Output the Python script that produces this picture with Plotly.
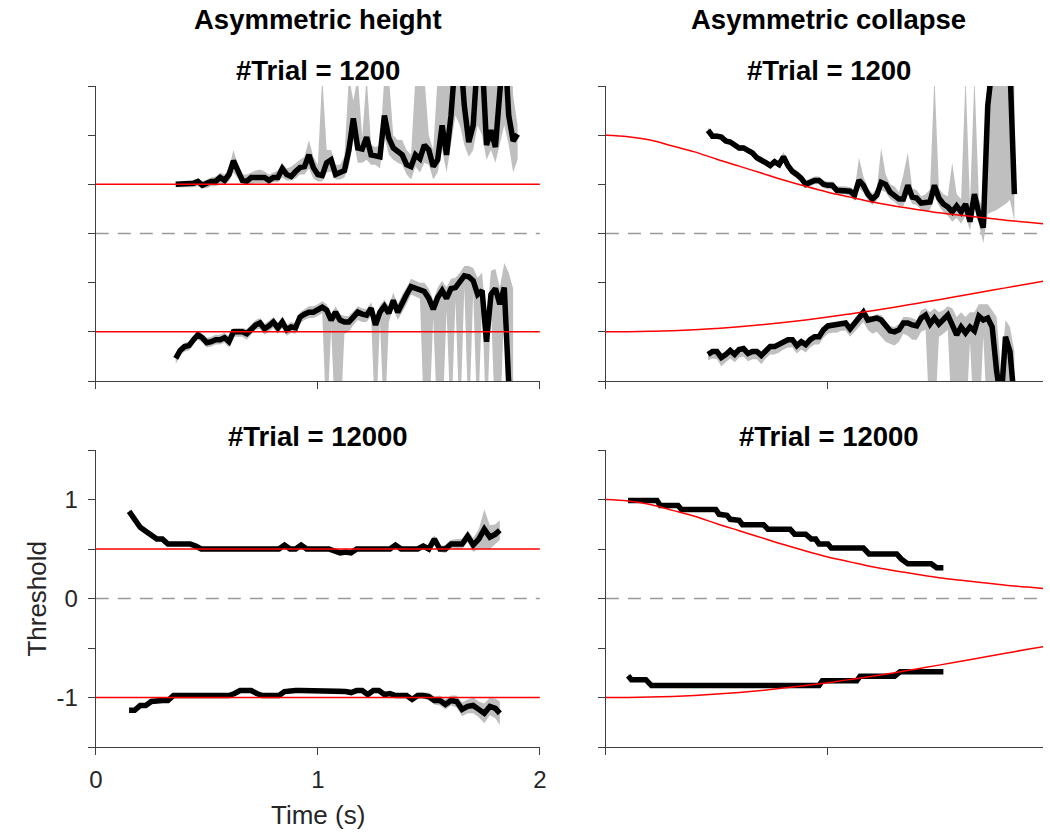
import numpy as np
import plotly.graph_objects as go

# ---------------- data ----------------
TRUE_UPPER_HEIGHT = 0.5
TRUE_LOWER_HEIGHT = -1.0

# red "true" collapsing bounds (right column)
collapse_t = [0.0, 0.1, 0.2, 0.3, 0.4, 0.5, 0.6, 0.7, 0.8, 0.9, 1.0, 1.1, 1.2, 1.3, 1.4, 1.5, 1.6, 1.7, 1.8, 1.9, 1.97]
collapse_upper = [1.00, 0.985, 0.95, 0.89, 0.83, 0.755, 0.685, 0.615, 0.545, 0.48, 0.42, 0.37, 0.32, 0.28, 0.245,
                  0.21, 0.185, 0.16, 0.135, 0.115, 0.10]
collapse_lower = [-1.00, -0.999, -0.995, -0.989, -0.979, -0.965, -0.949, -0.929, -0.905, -0.879, -0.850, -0.818,
                  -0.785, -0.749, -0.711, -0.673, -0.633, -0.593, -0.553, -0.513, -0.486]

# ---- top-left: asymmetric height, 1200 trials ----
tl_up_t = np.round(np.arange(0.36, 1.9001, 0.02), 2)
tl_up_mean = [0.50, 0.50, 0.50, 0.50, 0.51, 0.53, 0.49, 0.51, 0.53, 0.53,
              0.57, 0.54, 0.60, 0.74, 0.64, 0.54, 0.53, 0.57, 0.57, 0.57,
              0.57, 0.54, 0.57, 0.57, 0.66, 0.60, 0.58, 0.63, 0.67, 0.68,
              0.80, 0.67, 0.60, 0.59, 0.72, 0.75, 0.60, 0.62, 0.64, 0.85,
              1.17, 0.87, 0.86, 0.98, 0.80, 0.79, 0.78, 1.20, 0.97, 0.87,
              0.84, 0.80, 0.70, 0.68, 0.80, 0.76, 0.90, 0.85, 0.68, 0.75,
              1.10, 0.80, 1.20, 1.80, 1.90, 1.30, 0.93, 1.10, 1.80, 1.80,
              0.90, 1.05, 0.88, 1.50, 2.00, 1.20, 0.94, 1.01]
tl_up_lo = [0.47, 0.47, 0.47, 0.47, 0.47, 0.48, 0.46, 0.46, 0.48, 0.48,
            0.50, 0.50, 0.53, 0.62, 0.56, 0.50, 0.50, 0.50, 0.51, 0.51,
            0.51, 0.50, 0.52, 0.52, 0.57, 0.54, 0.54, 0.56, 0.60, 0.60,
            0.66, 0.56, 0.53, 0.53, 0.62, 0.63, 0.55, 0.55, 0.57, 0.68,
            0.95, 0.72, 0.72, 0.75, 0.70, 0.70, 0.66, 0.98, 0.80, 0.75,
            0.72, 0.70, 0.60, 0.55, 0.68, 0.62, 0.72, 0.70, 0.55, 0.62,
            0.85, 0.62, 0.90, 1.20, 1.10, 0.90, 0.78, 0.85, 1.10, 1.00,
            0.75, 0.85, 0.72, 0.90, 1.10, 0.90, 0.62, 0.75]
tl_up_hi = [0.52, 0.52, 0.52, 0.53, 0.54, 0.56, 0.53, 0.55, 0.57, 0.58,
            0.62, 0.60, 0.66, 0.85, 0.70, 0.60, 0.60, 0.62, 0.64, 0.65,
            0.63, 0.60, 0.62, 0.64, 0.72, 0.66, 0.68, 0.72, 0.75, 0.78,
            0.95, 0.78, 0.70, 1.60, 0.85, 0.85, 0.70, 0.70, 0.78, 1.60,
            1.35, 1.60, 0.98, 1.60, 0.90, 0.88, 0.90, 1.60, 1.60, 1.00,
            0.95, 0.95, 0.85, 0.80, 1.60, 1.60, 1.60, 1.00, 0.85, 1.60,
            1.60, 1.60, 1.60, 2.50, 2.50, 2.50, 2.50, 2.50, 2.50, 2.50,
            2.50, 2.50, 2.50, 2.50, 2.50, 2.50, 1.40, 1.10]

tl_lo_t = np.round(np.arange(0.36, 1.8801, 0.02), 2)
tl_lo_mean = [-1.27, -1.19, -1.15, -1.14, -1.08, -1.03, -1.06, -1.11, -1.10, -1.08,
              -1.08, -1.06, -1.10, -1.00, -1.00, -1.00, -1.02, -0.98, -0.93, -0.91,
              -0.97, -0.94, -0.90, -0.96, -0.90, -0.98, -0.95, -0.96, -0.85, -0.82,
              -0.80, -0.80, -0.78, -0.75, -0.78, -0.88, -0.80, -0.88, -0.90, -0.90,
              -0.85, -0.80, -0.82, -0.83, -0.76, -0.93, -0.80, -0.74, -0.81, -0.68,
              -0.80, -0.70, -0.62, -0.54, -0.56, -0.58, -0.59, -0.66, -0.77, -0.65,
              -0.58, -0.66, -0.56, -0.55, -0.50, -0.43, -0.44, -0.48, -0.62, -0.58,
              -1.10, -0.62, -0.56, -0.72, -0.55, -1.90, -2.50]
tl_lo_lo = [-1.33, -1.24, -1.20, -1.19, -1.13, -1.08, -1.11, -1.16, -1.15, -1.13,
            -1.13, -1.11, -1.16, -1.05, -1.05, -1.05, -1.08, -1.03, -0.98, -0.97,
            -1.03, -1.00, -0.96, -1.02, -0.96, -1.04, -1.01, -1.02, -0.91, -0.88,
            -0.86, -0.86, -0.84, -0.81, -2.00, -0.96, -2.00, -2.00, -1.02, -1.00,
            -0.93, -0.88, -0.90, -0.90, -0.84, -2.00, -0.90, -2.00, -0.90, -0.76,
            -0.88, -0.80, -0.72, -0.62, -0.64, -0.66, -2.00, -2.00, -0.86, -2.00,
            -2.00, -0.78, -2.00, -0.68, -2.00, -0.55, -2.00, -0.60, -2.00, -0.70,
            -2.00, -0.75, -2.00, -2.00, -0.70, -2.00, -2.00]
tl_lo_hi = [-1.22, -1.15, -1.11, -1.10, -1.04, -0.99, -1.02, -1.06, -1.05, -1.03,
            -1.03, -1.01, -1.05, -0.96, -0.96, -0.96, -0.97, -0.93, -0.88, -0.86,
            -0.92, -0.89, -0.85, -0.91, -0.85, -0.93, -0.90, -0.91, -0.80, -0.77,
            -0.74, -0.74, -0.72, -0.69, -0.72, -0.82, -0.74, -0.82, -0.84, -0.84,
            -0.79, -0.74, -0.76, -0.77, -0.70, -0.86, -0.73, -0.67, -0.74, -0.60,
            -0.72, -0.62, -0.55, -0.46, -0.48, -0.50, -0.50, -0.56, -0.68, -0.55,
            -0.48, -0.55, -0.46, -0.45, -0.40, -0.33, -0.33, -0.35, -0.45, -0.40,
            -0.90, -0.38, -0.36, -0.55, -0.30, -0.40, -0.56]

# ---- top-right: asymmetric collapse, 1200 trials ----
tr_t = np.round(np.arange(0.46, 1.8401, 0.02), 2)
tr_up_mean = [1.05, 0.99, 0.99, 0.98, 0.94, 0.93, 0.90, 0.87, 0.87, 0.84,
              0.82, 0.77, 0.75, 0.72, 0.69, 0.73, 0.70, 0.78, 0.69, 0.63,
              0.60, 0.56, 0.50, 0.52, 0.54, 0.54, 0.50, 0.49, 0.49, 0.44,
              0.44, 0.44, 0.43, 0.39, 0.54, 0.49, 0.40, 0.35, 0.39, 0.52,
              0.50, 0.42, 0.39, 0.35, 0.35, 0.49, 0.37, 0.36, 0.31, 0.31,
              0.32, 0.49, 0.36, 0.30, 0.27, 0.22, 0.28, 0.22, 0.30, 0.12,
              0.40, 0.20, 0.06, 1.30, 2.00, 2.50, 2.50, 2.20, 1.70, 0.40]
tr_up_lo = [1.01, 0.96, 0.96, 0.95, 0.91, 0.90, 0.87, 0.84, 0.84, 0.81,
            0.79, 0.74, 0.72, 0.69, 0.66, 0.70, 0.67, 0.74, 0.65, 0.59,
            0.56, 0.52, 0.46, 0.48, 0.50, 0.50, 0.46, 0.45, 0.45, 0.40,
            0.40, 0.40, 0.38, 0.33, 0.46, 0.42, 0.34, 0.29, 0.33, 0.44,
            0.42, 0.35, 0.32, 0.28, 0.28, 0.40, 0.30, 0.29, 0.24, 0.23,
            0.24, 0.38, 0.28, 0.22, 0.18, 0.12, 0.16, 0.10, 0.18, 0.03,
            0.28, 0.08, -0.10, 0.20, 0.22, 0.24, 0.27, 0.30, 0.34, 0.13]
tr_up_hi = [1.08, 1.02, 1.02, 1.01, 0.97, 0.96, 0.93, 0.90, 0.90, 0.87,
            0.85, 0.80, 0.78, 0.75, 0.72, 0.76, 0.73, 0.83, 0.73, 0.67,
            0.64, 0.60, 0.54, 0.56, 0.58, 0.58, 0.54, 0.53, 0.53, 0.48,
            0.48, 0.48, 0.47, 0.44, 0.77, 0.58, 0.46, 0.41, 0.45, 0.87,
            0.60, 0.50, 0.48, 0.42, 0.60, 0.82, 0.46, 0.44, 0.38, 0.40,
            0.45, 1.60, 0.46, 0.40, 0.38, 0.72, 0.40, 0.35, 1.60, 0.30,
            1.60, 0.35, 0.25, 2.00, 3.00, 3.00, 3.00, 3.00, 3.00, 3.00]
tr_lo_mean = [-1.23, -1.20, -1.20, -1.26, -1.23, -1.19, -1.23, -1.18, -1.17, -1.22,
              -1.20, -1.20, -1.24, -1.19, -1.15, -1.15, -1.13, -1.10, -1.08, -1.08,
              -1.14, -1.10, -1.13, -1.08, -1.05, -1.05, -0.98, -0.94, -0.93, -0.93,
              -0.91, -0.91, -0.97, -0.92, -0.87, -0.80, -0.88, -0.87, -0.86, -0.88,
              -0.93, -0.99, -1.00, -0.98, -0.91, -0.91, -0.93, -0.94, -0.86, -0.83,
              -0.92, -0.86, -0.92, -0.88, -0.83, -0.93, -1.03, -0.95, -1.01, -0.95,
              -0.99, -0.84, -0.88, -0.86, -0.95, -1.40, -1.70, -1.05, -1.20, -1.70]
tr_lo_lo = [-1.29, -1.27, -1.28, -1.35, -1.31, -1.27, -1.31, -1.26, -1.25, -1.30,
            -1.28, -1.28, -1.33, -1.27, -1.23, -1.23, -1.21, -1.18, -1.16, -1.16,
            -1.22, -1.18, -1.21, -1.16, -1.13, -1.13, -1.06, -1.02, -1.01, -1.01,
            -0.99, -0.99, -1.05, -1.00, -0.95, -0.90, -0.98, -1.02, -1.00, -1.05,
            -1.10, -1.12, -1.14, -1.10, -1.02, -1.04, -1.08, -1.08, -1.00, -0.98,
            -2.00, -2.00, -1.05, -1.02, -0.98, -2.00, -2.00, -2.00, -2.00, -1.10,
            -2.00, -2.00, -1.05, -2.00, -2.00, -2.00, -2.00, -2.00, -2.00, -2.00]
tr_lo_hi = [-1.21, -1.18, -1.18, -1.24, -1.21, -1.17, -1.21, -1.16, -1.15, -1.20,
            -1.18, -1.18, -1.22, -1.17, -1.13, -1.13, -1.11, -1.08, -1.06, -1.06,
            -1.12, -1.08, -1.11, -1.06, -1.03, -1.03, -0.96, -0.92, -0.91, -0.91,
            -0.89, -0.89, -0.95, -0.90, -0.85, -0.78, -0.84, -0.84, -0.82, -0.83,
            -0.88, -0.94, -0.95, -0.92, -0.85, -0.85, -0.86, -0.88, -0.78, -0.76,
            -0.80, -0.76, -0.80, -0.78, -0.74, -0.76, -0.85, -0.80, -0.85, -0.80,
            -0.80, -0.72, -0.72, -0.72, -0.78, -0.85, -1.40, -0.88, -0.95, -1.20]

# ---- bottom-left: asymmetric height, 12000 trials ----
bl_t = [0.150, 0.175, 0.200, 0.225, 0.250, 0.275, 0.300, 0.325, 0.350, 0.375,
        0.400, 0.425, 0.450, 0.475, 0.500, 0.525, 0.550, 0.575, 0.600, 0.625,
        0.650, 0.675, 0.700, 0.725, 0.750, 0.775, 0.800, 0.825, 0.850, 0.875,
        0.900, 0.925, 0.950, 0.975, 1.000, 1.025, 1.050, 1.075, 1.100, 1.125,
        1.150, 1.175, 1.200, 1.225, 1.250, 1.275, 1.300, 1.325, 1.350, 1.375,
        1.400, 1.425, 1.450, 1.475, 1.500, 1.525, 1.550, 1.575, 1.600, 1.625,
        1.650, 1.675, 1.700, 1.725, 1.750, 1.775, 1.800, 1.820]
bl_up_mean = [0.88, 0.80, 0.72, 0.68, 0.64, 0.60, 0.60, 0.55, 0.55, 0.55,
              0.55, 0.55, 0.53, 0.50, 0.50, 0.50, 0.50, 0.50, 0.50, 0.50,
              0.50, 0.50, 0.50, 0.50, 0.50, 0.50, 0.50, 0.50, 0.54, 0.50,
              0.50, 0.54, 0.50, 0.50, 0.50, 0.50, 0.50, 0.48, 0.46, 0.47,
              0.46, 0.50, 0.50, 0.50, 0.50, 0.50, 0.50, 0.50, 0.54, 0.50,
              0.50, 0.50, 0.50, 0.53, 0.50, 0.60, 0.50, 0.50, 0.55, 0.55,
              0.55, 0.63, 0.54, 0.60, 0.70, 0.62, 0.65, 0.69]
bl_up_ci = [0.02, 0.02, 0.02, 0.02, 0.02, 0.02, 0.02, 0.02, 0.02, 0.02,
            0.02, 0.02, 0.02, 0.02, 0.02, 0.02, 0.02, 0.02, 0.02, 0.02,
            0.02, 0.02, 0.02, 0.02, 0.02, 0.02, 0.02, 0.02, 0.02, 0.02,
            0.02, 0.02, 0.02, 0.02, 0.02, 0.02, 0.02, 0.02, 0.02, 0.02,
            0.02, 0.02, 0.02, 0.02, 0.02, 0.02, 0.02, 0.02, 0.02, 0.02,
            0.02, 0.02, 0.02, 0.03, 0.03, 0.04, 0.03, 0.04, 0.04, 0.05,
            0.05, 0.06, 0.07, 0.10, 0.20, 0.12, 0.10, 0.10]
bl_lo_mean = [-1.13, -1.13, -1.08, -1.08, -1.04, -1.03, -1.03, -1.03, -0.98, -0.98,
              -0.98, -0.98, -0.98, -0.98, -0.98, -0.98, -0.98, -0.98, -0.98, -0.96,
              -0.93, -0.93, -0.93, -0.96, -0.98, -0.98, -0.98, -0.98, -0.94, -0.93,
              -0.93, -0.93, -0.93, -0.93, -0.93, -0.93, -0.93, -0.93, -0.93, -0.94,
              -0.95, -0.93, -0.93, -0.97, -0.93, -0.93, -0.97, -0.96, -0.98, -0.98,
              -0.98, -1.02, -0.98, -0.98, -0.99, -1.03, -1.03, -1.07, -1.03, -1.04,
              -1.12, -1.09, -1.08, -1.12, -1.16, -1.09, -1.11, -1.16]
bl_lo_ci = [0.02, 0.02, 0.02, 0.02, 0.02, 0.02, 0.02, 0.02, 0.02, 0.02,
            0.02, 0.02, 0.02, 0.02, 0.02, 0.02, 0.02, 0.02, 0.02, 0.02,
            0.02, 0.02, 0.02, 0.02, 0.02, 0.02, 0.02, 0.02, 0.02, 0.02,
            0.02, 0.02, 0.02, 0.02, 0.02, 0.02, 0.02, 0.02, 0.02, 0.02,
            0.02, 0.02, 0.02, 0.02, 0.02, 0.02, 0.02, 0.02, 0.02, 0.02,
            0.02, 0.03, 0.03, 0.03, 0.04, 0.04, 0.05, 0.05, 0.05, 0.06,
            0.07, 0.07, 0.08, 0.08, 0.10, 0.09, 0.10, 0.12]

# ---- bottom-right: asymmetric collapse, 12000 trials ----
br_up_t = [0.10, 0.23, 0.245, 0.325, 0.34, 0.495, 0.51, 0.545, 0.56, 0.60, 0.615, 0.71, 0.73, 0.83, 0.85,
           0.90, 0.925, 0.945, 0.96, 1.00, 1.015, 1.16, 1.185, 1.31, 1.33, 1.36, 1.465, 1.49, 1.52]
br_up_mean = [0.99, 0.99, 0.94, 0.94, 0.90, 0.90, 0.85, 0.84, 0.80, 0.79, 0.745, 0.745, 0.70, 0.70, 0.65,
              0.65, 0.60, 0.60, 0.55, 0.55, 0.51, 0.51, 0.45, 0.45, 0.40, 0.35, 0.35, 0.31, 0.31]
br_up_ci = [0.02, 0.02, 0.02, 0.02, 0.02, 0.02, 0.02, 0.02, 0.02, 0.02, 0.02, 0.02, 0.02, 0.02, 0.02,
            0.02, 0.02, 0.02, 0.02, 0.02, 0.02, 0.02, 0.02, 0.02, 0.02, 0.02, 0.02, 0.02, 0.02]
br_lo_t = [0.10, 0.115, 0.18, 0.205, 0.96, 0.975, 1.13, 1.145, 1.30, 1.325, 1.52]
br_lo_mean = [-0.78, -0.82, -0.82, -0.88, -0.88, -0.83, -0.83, -0.785, -0.785, -0.74, -0.74]
br_lo_ci = [0.02, 0.02, 0.02, 0.02, 0.02, 0.02, 0.02, 0.02, 0.02, 0.02, 0.02]

# ---------------- figure ----------------
FONT = "Liberation Sans, Arial, Helvetica, sans-serif"
BAND = "rgb(191,191,191)"
AX = "#404040"

fig = go.Figure()


def band(t, lo, hi, xa, ya):
    fig.add_trace(go.Scatter(x=t, y=lo, mode="lines", line=dict(width=0), xaxis=xa, yaxis=ya,
                             showlegend=False, hoverinfo="skip"))
    fig.add_trace(go.Scatter(x=t, y=hi, mode="lines", line=dict(width=0), fill="tonexty",
                             fillcolor=BAND, xaxis=xa, yaxis=ya, showlegend=False, hoverinfo="skip"))


def mean_line(t, m, xa, ya):
    fig.add_trace(go.Scatter(x=t, y=m, mode="lines", line=dict(color="black", width=5.5),
                             xaxis=xa, yaxis=ya, showlegend=False))


def red_line(t, v, xa, ya):
    fig.add_trace(go.Scatter(x=t, y=v, mode="lines", line=dict(color="#ff0000", width=1.5, shape="spline"),
                             xaxis=xa, yaxis=ya, showlegend=False))


# top-left
band(tl_up_t, tl_up_lo, tl_up_hi, "x", "y")
band(tl_lo_t, tl_lo_lo, tl_lo_hi, "x", "y")
mean_line(tl_up_t, tl_up_mean, "x", "y")
mean_line(tl_lo_t, tl_lo_mean, "x", "y")

# top-right
band(tr_t, tr_up_lo, tr_up_hi, "x2", "y2")
band(tr_t, tr_lo_lo, tr_lo_hi, "x2", "y2")
mean_line(tr_t, tr_up_mean, "x2", "y2")
mean_line(tr_t, tr_lo_mean, "x2", "y2")
red_line(collapse_t, collapse_upper, "x2", "y2")
red_line(collapse_t, collapse_lower, "x2", "y2")

# bottom-left
band(bl_t, [m - c for m, c in zip(bl_up_mean, bl_up_ci)], [m + c for m, c in zip(bl_up_mean, bl_up_ci)], "x3", "y3")
band(bl_t, [m - c for m, c in zip(bl_lo_mean, bl_lo_ci)], [m + c for m, c in zip(bl_lo_mean, bl_lo_ci)], "x3", "y3")
mean_line(bl_t, bl_up_mean, "x3", "y3")
mean_line(bl_t, bl_lo_mean, "x3", "y3")

# bottom-right
band(br_up_t, [m - c for m, c in zip(br_up_mean, br_up_ci)], [m + c for m, c in zip(br_up_mean, br_up_ci)], "x4", "y4")
band(br_lo_t, [m - c for m, c in zip(br_lo_mean, br_lo_ci)], [m + c for m, c in zip(br_lo_mean, br_lo_ci)], "x4", "y4")
mean_line(br_up_t, br_up_mean, "x4", "y4")
mean_line(br_lo_t, br_lo_mean, "x4", "y4")
red_line(collapse_t, collapse_upper, "x4", "y4")
red_line(collapse_t, collapse_lower, "x4", "y4")

# reference lines
shapes = []
for xr, yr in [("x", "y"), ("x2", "y2"), ("x3", "y3"), ("x4", "y4")]:
    shapes.append(dict(type="line", xref=xr + " domain", yref=yr, x0=0, x1=1, y0=0, y1=0,
                       line=dict(color="#9a9a9a", width=1.5, dash="13px,9px"), layer="below"))
for xr, yr in [("x", "y"), ("x3", "y3")]:
    for yv in (TRUE_UPPER_HEIGHT, TRUE_LOWER_HEIGHT):
        shapes.append(dict(type="line", xref=xr + " domain", yref=yr, x0=0, x1=1, y0=yv, y1=yv,
                           line=dict(color="#ff0000", width=1.5), layer="above"))

W, H = 1050, 833
xl = [90 / W, 540 / W]
xr_dom = [607 / W, 1.0]
yt = [(H - 381) / H, (H - 86) / H]
yb = [(H - 747) / H, (H - 450) / H]

def xax(domain, rng, labels, anchor):
    return dict(domain=domain, range=rng, anchor=anchor, tickvals=[0, 1, 2],
                showticklabels=labels, showline=True, linecolor=AX, linewidth=1.3,
                ticks="outside", ticklen=7, tickwidth=1.3, tickcolor=AX,
                showgrid=False, zeroline=False, ticklabelstandoff=4,
                tickfont=dict(family=FONT, size=24, color="#262626"))

def yax(domain, labels, anchor):
    return dict(domain=domain, range=[-1.5, 1.5], anchor=anchor,
                tickvals=[-1.5, -1, -0.5, 0, 0.5, 1, 1.5],
                ticktext=["", "-1", "", "0", "", "1", ""],
                showticklabels=labels, showline=True, linecolor=AX, linewidth=1.3,
                ticks="outside", ticklen=7, tickwidth=1.3, tickcolor=AX,
                showgrid=False, zeroline=False, ticklabelstandoff=5,
                tickfont=dict(family=FONT, size=24, color="#262626"))

right_range = [0, (W - 607) / 225]

fig.update_layout(
    width=W, height=H, margin=dict(l=0, r=0, t=0, b=0),
    paper_bgcolor="white", plot_bgcolor="white",
    font=dict(family=FONT, color="#262626"),
    xaxis=xax(xl, [0, 2], False, "y"), yaxis=yax(yt, False, "x"),
    xaxis2=xax(xr_dom, right_range, False, "y2"), yaxis2=yax(yt, False, "x2"),
    xaxis3=xax(xl, [0, 2], True, "y3"), yaxis3=yax(yb, True, "x3"),
    xaxis4=xax(xr_dom, right_range, False, "y4"), yaxis4=yax(yb, False, "x4"),
    shapes=shapes,
)

cx_l = 315 / W
cx_r = 833 / W
ann = [
    ("<b>Asymmetric height</b>", cx_l, 20, 27.5),
    ("<b>Asymmetric collapse</b>", cx_r, 20, 27.5),
    ("<b>#Trial = 1200</b>", cx_l, 70, 27.5),
    ("<b>#Trial = 1200</b>", cx_r, 70, 27.5),
    ("<b>#Trial = 12000</b>", cx_l, 436, 27.5),
    ("<b>#Trial = 12000</b>", cx_r, 436, 27.5),
]
for text, x, ypx, size in ann:
    fig.add_annotation(text=text, x=x, y=1 - ypx / H, xref="paper", yref="paper",
                       xanchor="center", yanchor="middle", showarrow=False,
                       font=dict(family=FONT, size=size, color="black"))
fig.add_annotation(text="Time (s)", x=cx_l, y=1 - 815 / H, xref="paper", yref="paper",
                   xanchor="center", yanchor="middle", showarrow=False,
                   font=dict(family=FONT, size=26, color="#262626"))
fig.add_annotation(text="Threshold", x=30 / W, y=1 - 599 / H, xref="paper", yref="paper",
                   xanchor="center", yanchor="middle", showarrow=False, textangle=-90,
                   font=dict(family=FONT, size=26, color="#262626"))

fig.write_html("out.html", config={"displayModeBar": False},
               post_script="document.body.style.margin='0px';")
